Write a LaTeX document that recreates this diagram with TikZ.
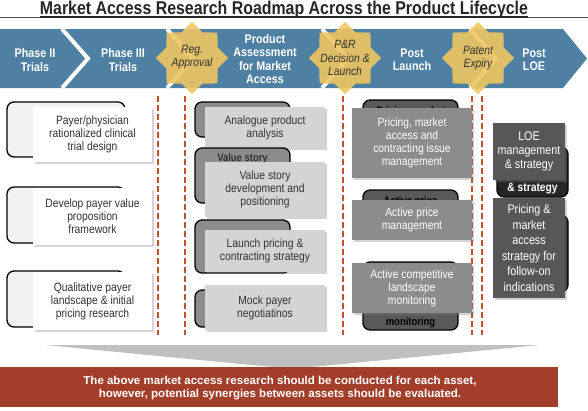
\documentclass[tikz,border=0pt]{standalone}
\usepackage{fontspec}
\setmainfont{Liberation Sans}
\newfontfamily\narrowfont[FakeStretch=0.86]{Liberation Sans}
\usetikzlibrary{shapes.geometric,shadows}
\definecolor{bannerblue}{RGB}{78,128,163}
\definecolor{stargold}{RGB}{238,198,98}
\definecolor{gatered}{RGB}{192,80,45}
\definecolor{bandred}{RGB}{163,62,42}
\definecolor{funnelgray}{RGB}{192,192,192}
\definecolor{textgray}{RGB}{50,50,50}

\begin{document}
\begin{tikzpicture}[x=1pt,y=-1pt,
    phase/.style={text=white,align=center,font=\narrowfont\bfseries\fontsize{12.5}{13.5}\selectfont},
    milestone/.style={star,star points=8,star point ratio=1.3,fill=stargold,fill opacity=0.9,minimum size=72pt,inner sep=0pt},
    milestonetext/.style={text=textgray,align=center,font=\narrowfont\itshape\fontsize{12}{13.5}\selectfont},
    backbox/.style={draw=black,line width=1.3pt,rounded corners=7pt,inner sep=0pt},
    peek/.style={inner sep=3pt,font=\narrowfont\bfseries\fontsize{11}{12}\selectfont},
    frontbox/.style={drop shadow={opacity=0.35,shadow xshift=2pt,shadow yshift=-2pt},inner sep=0pt,align=center,font=\narrowfont\fontsize{12}{13}\selectfont},
    gate/.style={gatered,line width=2pt,dash pattern=on 6pt off 3pt}
]
    \useasboundingbox (0,0) rectangle (588,410);
    \node[anchor=base,inner sep=0pt,text=black!85,font=\narrowfont\bfseries\fontsize{18.5}{18.5}\selectfont] (title) at (284,14.5) {Market Access Research Roadmap Across the Product Lifecycle};
    \draw[black!70,line width=0.6pt] (0,17) -- (588,17);
    \draw[black!85,line width=1.3pt] ([yshift=-2.5pt]title.base west) -- ([yshift=-2.5pt]title.base east);

    \fill[bannerblue] (0,29) -- (563,29) -- (587,58.5) -- (563,88) -- (0,88) -- cycle;
    \foreach \cx in {62,167,322,470}
        \draw[white,line width=4pt] (\cx,29) -- (\cx+26,58.5) -- (\cx,88);
    \node[phase] (ph2) at (35,60) {Phase II\\Trials};
    \node[phase] (ph3) at (123,60) {Phase III\\Trials};
    \node[phase] (assess) at (265,59) {Product\\Assessment\\for Market\\Access};
    \node[phase] (postlaunch) at (412,60) {Post\\Launch};
    \node[phase] (postloe) at (534,60) {Post\\LOE};

    \node[milestone] (regstar) at (192,58) {};
    \node[milestonetext] (reg) at (192,57) {Reg.\\Approval};
    \node[milestone] (prstar) at (345,58) {};
    \node[milestonetext] (pr) at (345,58) {P\&R\\Decision \&\\Launch};
    \node[milestone] (patentstar) at (478,58) {};
    \node[milestonetext] (patent) at (478,58) {Patent\\Expiry};

    \foreach \gx in {158,185,343,472,482}
        \draw[gate] (\gx,96) -- (\gx,335);

    \node[backbox,fill=black!5,minimum width=118pt,minimum height=55pt] (trialback) at (66,129.5) {};
    \node[frontbox,fill=white,text=textgray,minimum width=119pt,minimum height=55pt] (trial) at (92.5,134.5) {Payer/physician\\rationalized clinical\\trial design};
    \node[backbox,fill=black!5,minimum width=118pt,minimum height=56pt] (valueback) at (66,215) {};
    \node[frontbox,fill=white,text=textgray,minimum width=119pt,minimum height=57pt] (value) at (92.5,216.5) {Develop payer value\\proposition\\framework};
    \node[backbox,fill=black!5,minimum width=118pt,minimum height=56pt] (landback) at (66,299) {};
    \node[frontbox,fill=white,text=textgray,minimum width=119pt,minimum height=58pt] (land) at (92.5,301) {Qualitative payer\\landscape \& initial\\pricing research};

    \node[backbox,fill=black!45,minimum width=95pt,minimum height=35pt] (analogueback) at (242.5,119.5) {};
    \node[frontbox,fill=black!17,text=textgray,minimum width=120pt,minimum height=41pt] (analogue) at (265,127.5) {Analogue product\\analysis};
    \node[backbox,fill=black!45,minimum width=95pt,minimum height=55pt,label={[peek,text=textgray,anchor=north,yshift=-3pt]north:Value story}] (storyback) at (242.5,175.5) {};
    \node[frontbox,fill=black!17,text=textgray,minimum width=120pt,minimum height=55pt] (story) at (265,189.5) {Value story\\development and\\positioning};
    \node[backbox,fill=black!45,minimum width=95pt,minimum height=53pt] (launchback) at (242.5,246.5) {};
    \node[frontbox,fill=black!17,text=textgray,minimum width=120pt,minimum height=42pt] (launch) at (265,251) {Launch pricing \&\\contracting strategy};
    \node[backbox,fill=black!45,minimum width=95pt,minimum height=37pt] (mockback) at (242.5,308.5) {};
    \node[frontbox,fill=black!17,text=textgray,minimum width=120pt,minimum height=45pt] (mock) at (265,307.5) {Mock payer\\negotiatinos};

    \node[backbox,fill=black!65,minimum width=95pt,minimum height=50pt,label={[peek,text=black,anchor=north,yshift=-4pt]north:Pricing, market}] (issueback) at (410.5,125) {};
    \node[frontbox,fill=black!45,text=white,minimum width=120pt,minimum height=70pt] (issue) at (412,143) {Pricing, market\\access and\\contracting issue\\management};
    \node[backbox,fill=black!65,minimum width=95pt,minimum height=32pt,label={[peek,text=black,anchor=north,yshift=-4pt]north:Active price}] (priceback) at (410.5,206) {};
    \node[frontbox,fill=black!45,text=white,minimum width=120pt,minimum height=40pt] (price) at (412,220) {Active price\\management};
    \node[backbox,fill=black!65,minimum width=95pt,minimum height=68pt,label={[peek,text=black,anchor=south]south:monitoring}] (monitorback) at (410.5,296) {};
    \node[frontbox,fill=black!45,text=white,minimum width=120pt,minimum height=50pt] (monitor) at (412,288) {Active competitive\\landscape\\monitoring};

    \node[backbox,fill=black!85,minimum width=71pt,minimum height=50pt,label={[peek,text=white,anchor=south,font=\narrowfont\bfseries\fontsize{12}{13}\selectfont]south:\& strategy}] (loeback) at (532.5,172) {};
    \node[frontbox,fill=black!66,text=white,minimum width=72pt,minimum height=57pt,font=\narrowfont\fontsize{12.5}{14}\selectfont] (loe) at (529,151.5) {LOE\\management\\\& strategy};
    \node[backbox,fill=black!85,minimum width=71pt,minimum height=77pt] (followback) at (532.5,253.5) {};
    \node[frontbox,fill=black!66,text=white,minimum width=72pt,minimum height=100pt,font=\narrowfont\fontsize{12.5}{15.6}\selectfont] (follow) at (529,248) {Pricing \&\\market\\access\\strategy for\\follow-on\\indications};

    \fill[funnelgray] (45,345) -- (540,345) -- (312,367) -- (272,367) -- cycle;
    \fill[bandred] (0,367) rectangle (558,407);
    \node[text=white,align=center,font=\bfseries\fontsize{11.5}{13}\selectfont] (note) at (280,388) {The above market access research should be conducted for each asset,\\however, potential synergies between assets should be evaluated.};
\end{tikzpicture}
\end{document}
